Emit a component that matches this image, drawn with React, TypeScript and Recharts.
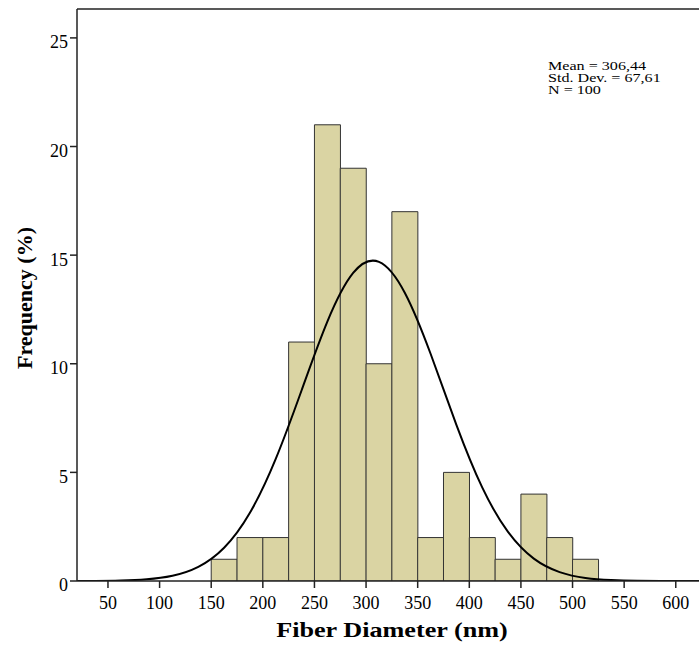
import React from 'react';
import { ComposedChart, Bar, Line, XAxis, YAxis, ReferenceLine, Label } from 'recharts';

// Bin centers (bin width 25 nm)
const binCenters = [
  12.5, 37.5, 62.5, 87.5, 112.5, 137.5, 162.5, 187.5, 212.5, 237.5, 262.5, 287.5, 312.5,
  337.5, 362.5, 387.5, 412.5, 437.5, 462.5, 487.5, 512.5, 537.5, 562.5, 587.5, 612.5, 637.5,
];
// Histogram frequencies (%)
const binFrequency: (number | null)[] = [
  null, null, null, null, null, null, 1, 2, 2, 11, 21, 19, 10,
  17, 2, 5, 2, 1, 4, 2, 1, null, null, null, null, null,
];
// Fitted normal curve at bin centers
const normalCurve = [
  0.001, 0.005, 0.022, 0.078, 0.241, 0.65, 1.53, 3.14, 5.62, 8.77, 11.94, 14.18, 14.69,
  13.27, 10.46, 7.19, 4.31, 2.26, 1.03, 0.41, 0.14, 0.043, 0.011, 0.003, 0.0006, 0.0001,
];
const xTicks = [50, 100, 150, 200, 250, 300, 350, 400, 450, 500, 550, 600];
const yTicks = [0, 5, 10, 15, 20, 25];
const statsLines = ['Mean = 306,44', 'Std. Dev. = 67,61', 'N = 100'];
const xTitle = 'Fiber Diameter (nm)';
const yTitle = 'Frequency (%)';

const X_DOMAIN: [number, number] = [20, 622.5];
const Y_MAX = 26.33;

const data = binCenters.map((x, i) => ({ x, freq: binFrequency[i], curve: normalCurve[i] }));

const FONT = '"Liberation Serif", "Times New Roman", serif';
const AXIS = '#222';

export default function App() {
  return (
    <div style={{ position: 'absolute', left: 0, top: 0, width: 699, height: 650, overflow: 'hidden', background: '#fff' }}>
      <ComposedChart
        width={699}
        height={650}
        data={data}
        margin={{ top: 9, right: 0, bottom: 0, left: 0 }}
        barCategoryGap={0}
        barGap={0}
      >
        <XAxis
          dataKey="x"
          type="number"
          domain={X_DOMAIN}
          allowDataOverflow
          ticks={xTicks}
          interval={0}
          height={69}
          tickSize={7}
          tickMargin={8}
          stroke={AXIS}
          strokeWidth={1.5}
          tick={{ fill: '#000', fontSize: 18, fontFamily: FONT }}
        >
          <Label
            value={xTitle}
            position="insideBottom"
            offset={13}
            dx={4}
            style={{
              fontFamily: FONT,
              fontSize: 22,
              fontWeight: 'bold',
              fill: '#000',
              transformBox: 'fill-box',
              transformOrigin: 'center',
              transform: 'scaleX(1.19)',
            }}
          />
        </XAxis>
        <YAxis
          type="number"
          domain={[0, Y_MAX]}
          allowDataOverflow
          ticks={yTicks}
          interval={0}
          width={77}
          tickSize={7}
          tickMargin={2}
          stroke={AXIS}
          strokeWidth={1.5}
          tick={{ fill: '#000', fontSize: 18, fontFamily: FONT, dy: 4 }}
        >
          <Label
            value={yTitle}
            angle={-90}
            position="insideLeft"
            offset={24}
            dy={3}
            style={{ fontFamily: FONT, fontSize: 22, fontWeight: 'bold', fill: '#000', textAnchor: 'middle' }}
          />
        </YAxis>
        <ReferenceLine y={Y_MAX} stroke={AXIS} strokeWidth={1.5} ifOverflow="visible" />
        <Bar dataKey="freq" fill="#DAD4A3" stroke="#333" strokeWidth={1} isAnimationActive={false} />
        <Line
          dataKey="curve"
          type="natural"
          stroke="#000"
          strokeWidth={2}
          dot={false}
          activeDot={false}
          isAnimationActive={false}
        />
      </ComposedChart>
      <div
        style={{
          position: 'absolute',
          left: 548,
          top: 60,
          fontFamily: FONT,
          fontSize: 11.5,
          lineHeight: '12px',
          color: '#000',
          whiteSpace: 'nowrap',
          transform: 'scaleX(1.4)',
          transformOrigin: '0 0',
        }}
      >
        {statsLines.map((s) => (
          <div key={s}>{s}</div>
        ))}
      </div>
    </div>
  );
}
